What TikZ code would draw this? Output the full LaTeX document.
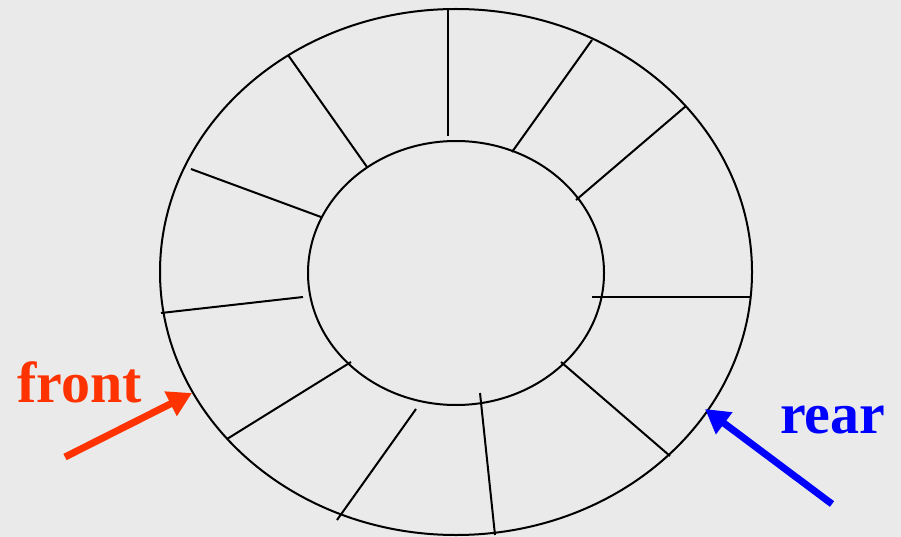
\documentclass[tikz,border=0pt]{standalone}
\usepackage{fontspec}
\setmainfont{Liberation Serif}
\usetikzlibrary{arrows.meta}
\definecolor{bg}{HTML}{EAEAEA}
\definecolor{frontc}{HTML}{FF3300}
\definecolor{rearc}{HTML}{0000FF}
\begin{document}
\begin{tikzpicture}[x=1pt,y=-1pt,
  ring/.style={draw=black,line width=2pt},
  spoke/.style={draw=black,line width=2pt},
  bigarrow/.style={line width=7pt,-{Triangle[length=24pt,width=26pt]}},
  lbl/.style={font=\bfseries\fontsize{58}{60}\selectfont,inner sep=0pt,anchor=base west}]
\fill[bg] (0,0) rectangle (901,537);
\useasboundingbox (0,0) rectangle (901,537);
% rings
\draw[ring] (456,272) ellipse [x radius=296,y radius=263];
\draw[ring] (456,273) ellipse [x radius=148,y radius=132];
% spokes
\draw[spoke] (448,9) -- (448,136);
\draw[spoke] (288,55) -- (367,167);
\draw[spoke] (592,40) -- (512,152);
\draw[spoke] (686,106) -- (576,200);
\draw[spoke] (191,169) -- (321,217);
\draw[spoke] (161,313) -- (303,297);
\draw[spoke] (592,297) -- (751,297);
\draw[spoke] (227,439) -- (351,362);
\draw[spoke] (561,362) -- (670,456);
\draw[spoke] (337,520) -- (416,409);
\draw[spoke] (480,393) -- (495,535);
% labels and arrows
\node[lbl,text=frontc] (front) at (17,402) {front};
\node[lbl,text=rearc] (rear) at (780,433) {rear};
\coordinate (ft) at (65,457);
\coordinate (fh) at (192,393);
\coordinate (rt) at (832,504);
\coordinate (rh) at (705,409);
\draw[bigarrow,frontc] (ft) -- (fh);
\draw[bigarrow,rearc] (rt) -- (rh);
\end{tikzpicture}
\end{document}
